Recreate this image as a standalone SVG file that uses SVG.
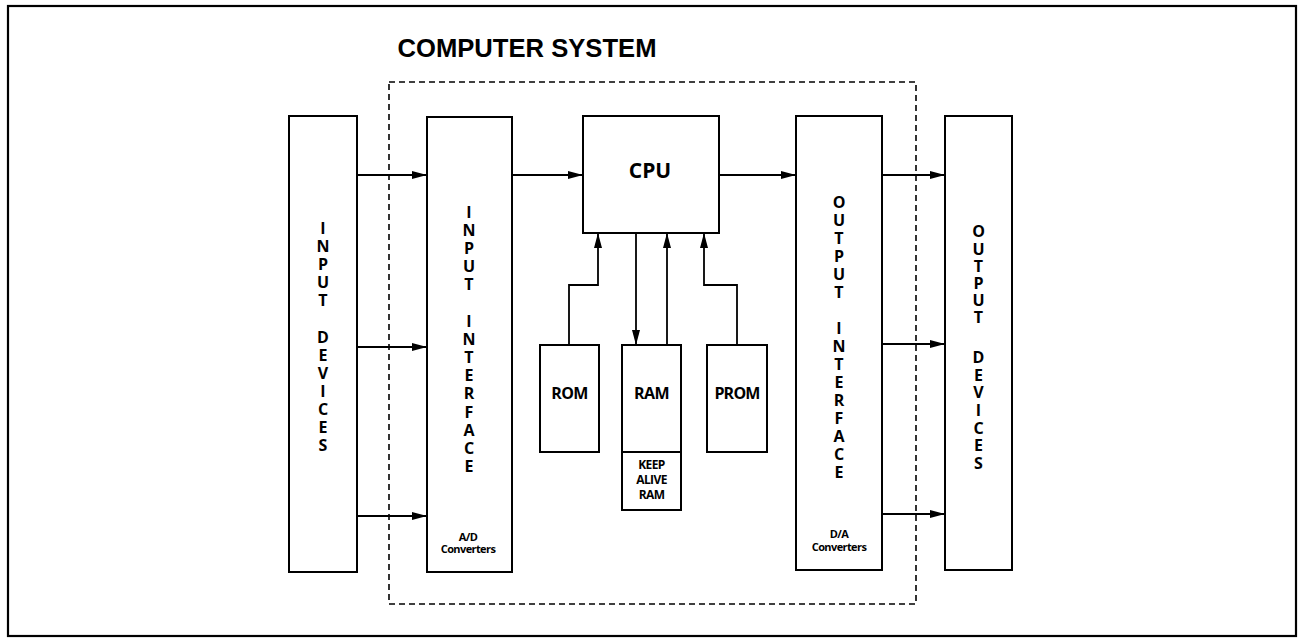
<svg xmlns="http://www.w3.org/2000/svg" width="1299" height="638" viewBox="0 0 1299 638">
<style>
.box{fill:#fff;stroke:#000;stroke-width:2}
.ln{fill:none;stroke:#000;stroke-width:1.8}
.v{font-family:"Open Sans","DejaVu Sans",sans-serif;font-weight:700;font-size:16px;text-anchor:middle;fill:#000}
.lbl{font-family:"Open Sans","DejaVu Sans",sans-serif;font-weight:700;text-anchor:middle;fill:#000}
.sm{font-family:"Open Sans","DejaVu Sans",sans-serif;font-weight:700;font-size:11px;text-anchor:middle;fill:#000;letter-spacing:-0.6px}
</style>
<defs>
<marker id="ah" markerUnits="userSpaceOnUse" markerWidth="16" markerHeight="9" refX="15" refY="4" orient="auto">
<path d="M0,0 L15,4 L0,8 z" fill="#000"/>
</marker>
</defs>
<rect width="1299" height="638" fill="#fff"/>
<g id="frame">
<rect x="8" y="6" width="1288" height="630" fill="none" stroke="#000" stroke-width="2.2"/>
<text x="527" y="57" font-family="'Liberation Sans',Arial,sans-serif" font-weight="700" font-size="25" text-anchor="middle" textLength="259" lengthAdjust="spacingAndGlyphs">COMPUTER SYSTEM</text>
</g>
<g id="system-boundary">
<rect x="389" y="82" width="527" height="522" fill="none" stroke="#000" stroke-width="1.6" stroke-dasharray="6,4"/>
</g>
<g id="connectors">
<line class="ln" x1="357" y1="175" x2="427" y2="175" marker-end="url(#ah)"/>
<line class="ln" x1="357" y1="347" x2="427" y2="347" marker-end="url(#ah)"/>
<line class="ln" x1="357" y1="516" x2="427" y2="516" marker-end="url(#ah)"/>
<line class="ln" x1="512" y1="175" x2="583" y2="175" marker-end="url(#ah)"/>
<line class="ln" x1="719" y1="175" x2="796" y2="175" marker-end="url(#ah)"/>
<line class="ln" x1="882" y1="175" x2="945" y2="175" marker-end="url(#ah)"/>
<line class="ln" x1="882" y1="344" x2="945" y2="344" marker-end="url(#ah)"/>
<line class="ln" x1="882" y1="514" x2="945" y2="514" marker-end="url(#ah)"/>
<polyline class="ln" points="569,345 569,285 598,285 598,233" marker-end="url(#ah)"/>
<line class="ln" x1="636" y1="233" x2="636" y2="345" marker-end="url(#ah)"/>
<line class="ln" x1="667" y1="345" x2="667" y2="233" marker-end="url(#ah)"/>
<polyline class="ln" points="737,345 737,285 704,285 704,233" marker-end="url(#ah)"/>
</g>
<g id="input-devices">
<rect class="box" x="289" y="116" width="68" height="456"/>
<text class="v"><tspan x="323" y="234">I</tspan><tspan x="323" y="252">N</tspan><tspan x="323" y="270">P</tspan><tspan x="323" y="288">U</tspan><tspan x="323" y="306">T</tspan><tspan x="323" y="343">D</tspan><tspan x="323" y="361">E</tspan><tspan x="323" y="379">V</tspan><tspan x="323" y="397">I</tspan><tspan x="323" y="415">C</tspan><tspan x="323" y="433">E</tspan><tspan x="323" y="451">S</tspan></text>
</g>
<g id="input-interface">
<rect class="box" x="427" y="117" width="85" height="455"/>
<text class="v"><tspan x="469" y="218">I</tspan><tspan x="469" y="236">N</tspan><tspan x="469" y="254">P</tspan><tspan x="469" y="272">U</tspan><tspan x="469" y="290">T</tspan><tspan x="469" y="327">I</tspan><tspan x="469" y="345">N</tspan><tspan x="469" y="363">T</tspan><tspan x="469" y="381">E</tspan><tspan x="469" y="399">R</tspan><tspan x="469" y="418">F</tspan><tspan x="469" y="436">A</tspan><tspan x="469" y="454">C</tspan><tspan x="469" y="472">E</tspan></text>
<text class="sm" x="468" y="541">A/D</text>
<text class="sm" x="468" y="553">Converters</text>
</g>
<g id="cpu">
<rect class="box" x="583" y="116" width="136" height="117"/>
<text class="lbl" x="650" y="178" font-size="21">CPU</text>
</g>
<g id="rom">
<rect class="box" x="540" y="345" width="59" height="107"/>
<text class="lbl" x="569.5" y="399" font-size="16" letter-spacing="-0.6">ROM</text>
</g>
<g id="ram">
<rect class="box" x="622" y="345" width="59" height="107"/>
<text class="lbl" x="651.5" y="399" font-size="16" letter-spacing="-0.6">RAM</text>
</g>
<g id="keep-alive-ram">
<rect class="box" x="622" y="452" width="59" height="58"/>
<text class="lbl" font-size="12" letter-spacing="-0.6"><tspan x="651.5" y="469">KEEP</tspan><tspan x="651.5" y="484">ALIVE</tspan><tspan x="651.5" y="499">RAM</tspan></text>
</g>
<g id="prom">
<rect class="box" x="707" y="345" width="60" height="107"/>
<text class="lbl" x="737" y="399" font-size="16" letter-spacing="-0.8">PROM</text>
</g>
<g id="output-interface">
<rect class="box" x="796" y="116" width="86" height="454"/>
<text class="v"><tspan x="839" y="208">O</tspan><tspan x="839" y="226">U</tspan><tspan x="839" y="244">T</tspan><tspan x="839" y="262">P</tspan><tspan x="839" y="280">U</tspan><tspan x="839" y="298">T</tspan><tspan x="839" y="334">I</tspan><tspan x="839" y="352">N</tspan><tspan x="839" y="370">T</tspan><tspan x="839" y="388">E</tspan><tspan x="839" y="406">R</tspan><tspan x="839" y="424">F</tspan><tspan x="839" y="442">A</tspan><tspan x="839" y="460">C</tspan><tspan x="839" y="478">E</tspan></text>
<text class="sm" x="839" y="538">D/A</text>
<text class="sm" x="839" y="551">Converters</text>
</g>
<g id="output-devices">
<rect class="box" x="945" y="116" width="67" height="454"/>
<text class="v"><tspan x="978.5" y="237">O</tspan><tspan x="978.5" y="255">U</tspan><tspan x="978.5" y="272">T</tspan><tspan x="978.5" y="289">P</tspan><tspan x="978.5" y="306">U</tspan><tspan x="978.5" y="323">T</tspan><tspan x="978.5" y="363">D</tspan><tspan x="978.5" y="381">E</tspan><tspan x="978.5" y="398">V</tspan><tspan x="978.5" y="416">I</tspan><tspan x="978.5" y="434">C</tspan><tspan x="978.5" y="451">E</tspan><tspan x="978.5" y="469">S</tspan></text>
</g>
</svg>
